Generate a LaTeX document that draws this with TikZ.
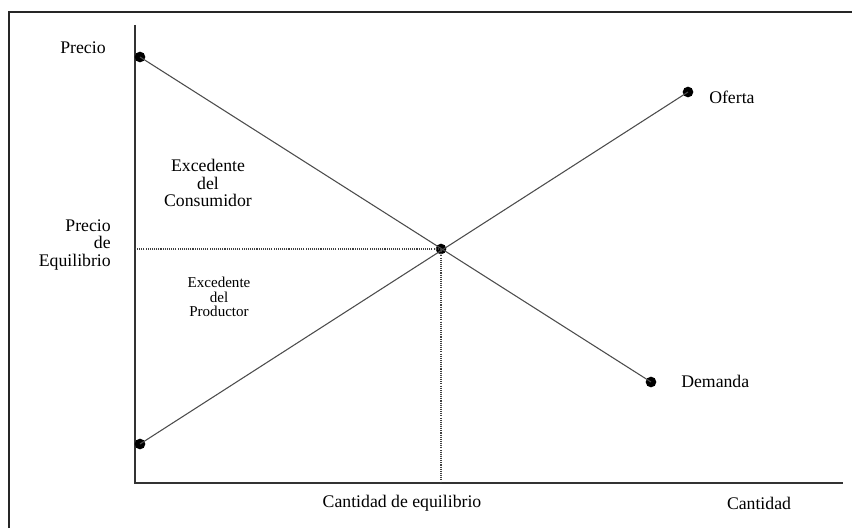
\documentclass[tikz,border=0pt]{standalone}
\usepackage{fontspec}
\setmainfont{Liberation Serif}
\usepackage{tikz}
\usetikzlibrary{positioning}
\tikzstyle{marco} = [draw, line width=2pt, color=black!85]
\tikzstyle{eje} = [draw, line width=1.1pt, color=black!80]
\tikzstyle{curva} = [draw, line width=0.8pt, color=black!70]
\tikzstyle{punteado} = [draw, line width=0.9pt, color=black!75, dash pattern=on 0.8pt off 0.8pt]
\tikzstyle{punto} = [circle, fill=black, inner sep=0pt, minimum width=8pt, minimum height=7pt]
\tikzstyle{etiqueta} = [inner sep=0pt, font=\fontsize{13.3}{13.3}\selectfont, align=center]
\tikzstyle{chica} = [inner sep=0pt, font=\fontsize{11.3}{11}\selectfont, align=center]
\newcommand{\punto}[1]{node (p#1) [punto] {}}
\newcommand{\etiqueta}[2]{node (e#1) [etiqueta] {#2}}

\begin{document}
\begin{tikzpicture}[x=0.75pt,y=-0.75pt]
\useasboundingbox (0,0) rectangle (852,528);
\path [marco] (9,528) -- (9,12) -- (852,12);

% ejes
\coordinate (o) at (135,483);
\coordinate (ytop) at (135,25);
\coordinate (xend) at (843,483);
\path [eje] (ytop) -- (o) -- (xend);

% curvas
\path (140,57) \punto{d1};
\path (651,382) \punto{d2};
\path (140,444) \punto{o1};
\path (688,92) \punto{o2};
\path (441,249) \punto{eq};
\path [curva] (pd1.center) -- (pd2.center);
\path [curva] (po1.center) -- (po2.center);
\path [punteado] (peq.center) -- (peq.center -| o);
\path [punteado] (peq.center) -- (peq.center |- o);

% textos
\path (83,48) \etiqueta{1}{Precio};
\path (111,245) node (e2) [etiqueta, anchor=east, align=right] {Precio\\de\\Equilibrio};
\path (208,183) \etiqueta{3}{Excedente\\del\\Consumidor};
\path (219,297) node (e4) [chica] {Excedente\\del\\Productor};
\path (po2)+(21,5) node (e5) [etiqueta, anchor=west] {Oferta};
\path (pd2)+(30,-1) node (e6) [etiqueta, anchor=west] {Demanda};
\path (402,503) \etiqueta{7}{Cantidad de equilibrio};
\path (759,503) \etiqueta{8}{Cantidad};
\end{tikzpicture}
\end{document}
